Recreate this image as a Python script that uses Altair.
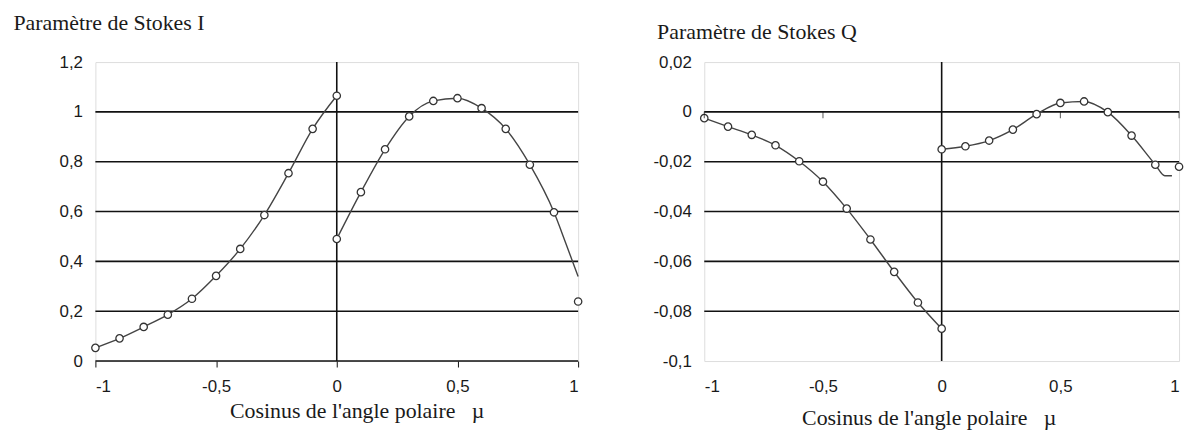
import altair as alt
import pandas as pd

# ---------------- data ----------------
mu_neg = [-1.0, -0.9, -0.8, -0.7, -0.6, -0.5, -0.4, -0.3, -0.2, -0.1, 0.0]
mu_pos = [0.0, 0.1, 0.2, 0.3, 0.4, 0.5, 0.6, 0.7, 0.8, 0.9, 1.0]

# Stokes I (markers)
i_neg = [0.053, 0.091, 0.137, 0.186, 0.250, 0.342, 0.450, 0.586, 0.754, 0.932, 1.065]
i_pos = [0.490, 0.678, 0.850, 0.982, 1.044, 1.055, 1.015, 0.932, 0.788, 0.597, 0.239]
# Stokes I curve on the positive side (ends above the last marker)
i_curve_mu = [0.0, 0.1, 0.2, 0.3, 0.4, 0.5, 0.6, 0.7, 0.8, 0.9, 0.95, 1.0]
i_curve = [0.490, 0.678, 0.850, 0.982, 1.044, 1.055, 1.015, 0.932, 0.788, 0.597, 0.470, 0.339]

# Stokes Q (markers)
q_neg = [-0.0025, -0.0059, -0.0092, -0.0134, -0.0198, -0.0280, -0.0388, -0.0512, -0.0642, -0.0765, -0.0870]
q_pos = [-0.0150, -0.0138, -0.0115, -0.0071, -0.0009, 0.0036, 0.0042, -0.0001, -0.0095, -0.0212, -0.0220]
# Stokes Q curve on the positive side
q_curve_mu = [0.0, 0.1, 0.2, 0.3, 0.4, 0.5, 0.6, 0.7, 0.8, 0.9, 0.94, 0.97]
q_curve = [-0.0150, -0.0138, -0.0115, -0.0071, -0.0009, 0.0036, 0.0042, -0.0001, -0.0095, -0.0212, -0.0256, -0.0256]

x_domain = [-1.0, 1.0]
x_ticks = [-1.0, -0.5, 0.0, 0.5, 1.0]

i_domain = [0.0, 1.2]
i_ticks = [0.0, 0.2, 0.4, 0.6, 0.8, 1.0, 1.2]
i_grid = [0.0, 0.2, 0.4, 0.6, 0.8, 1.0]

q_domain = [-0.1, 0.02]
q_ticks = [-0.1, -0.08, -0.06, -0.04, -0.02, 0.0, 0.02]
q_grid = [-0.08, -0.06, -0.04, -0.02, 0.0]

title_i = "Paramètre de Stokes I"
title_q = "Paramètre de Stokes Q"
x_title = "Cosinus de l'angle polaire\u00a0\u00a0\u00a0µ"

LABEL_EXPR = "replace(toString(datum.value), '.', ',')"
SERIF = "Liberation Serif"
SANS = "Liberation Sans"
TXT = "#1a1a1a"


def panel(neg_y, pos_y, curve_mu, curve_y, y_domain, y_ticks, y_grid,
          ytitle, ytitle_x, ytitle_y, xtitle_x, xtitle_y, width, height,
          show_ticks, cross_ticks):
    xaxis = alt.Axis(values=x_ticks, labelExpr=LABEL_EXPR, title=x_title,
                     domain=False, grid=False, ticks=True, tickSize=6,
                     tickColor="#111", tickOpacity=1 if show_ticks else 0,
                     labelPadding=12, labelFont=SANS, labelFontSize=17,
                     labelColor=TXT, titleFont=SERIF, titleFontSize=22,
                     titleFontWeight="normal", titleColor=TXT,
                     titleAlign="left", titleBaseline="alphabetic",
                     titleX=xtitle_x, titleY=xtitle_y)
    yaxis = alt.Axis(values=y_ticks, labelExpr=LABEL_EXPR, title=ytitle,
                     domain=False, grid=False, ticks=False, labelPadding=13,
                     labelFont=SANS, labelFontSize=17, labelColor=TXT,
                     labelBaseline="middle",
                     titleFont=SERIF, titleFontSize=22, titleFontWeight="normal",
                     titleColor=TXT, titleAngle=0, titleAlign="left",
                     titleBaseline="alphabetic", titleX=ytitle_x, titleY=ytitle_y)
    xs = alt.Scale(domain=x_domain, nice=False, zero=False)
    ys = alt.Scale(domain=y_domain, nice=False, zero=False)
    X = lambda f: alt.X(f, type="quantitative", scale=xs, axis=xaxis)
    Y = lambda f: alt.Y(f, type="quantitative", scale=ys, axis=yaxis)

    grid_df = pd.DataFrame({"v": y_grid, "mu": [x_domain[0]] * len(y_grid),
                            "mu2": [x_domain[1]] * len(y_grid)})
    grid = alt.Chart(grid_df).mark_rule(color="#111", strokeWidth=1.6).encode(
        x=X("mu"), x2="mu2", y=Y("v"))

    vline_df = pd.DataFrame({"mu": [0.0], "v": [y_domain[0]], "v2": [y_domain[1]]})
    vline = alt.Chart(vline_df).mark_rule(color="#111", strokeWidth=1.6).encode(
        x=X("mu"), y=Y("v"), y2="v2")

    line_df = pd.DataFrame({
        "mu": mu_neg + curve_mu,
        "v": neg_y + curve_y,
        "seg": ["neg"] * len(mu_neg) + ["pos"] * len(curve_mu),
    })
    lines = alt.Chart(line_df).mark_line(color="#444", strokeWidth=1.4,
                                         interpolate="monotone").encode(
        x=X("mu"), y=Y("v"), detail="seg:N")

    pt_df = pd.DataFrame({"mu": mu_neg + mu_pos, "v": neg_y + pos_y})
    pts = alt.Chart(pt_df).mark_point(shape="circle", size=55, filled=True,
                                      fill="white", stroke="#333",
                                      strokeWidth=1.3, opacity=1).encode(
        x=X("mu"), y=Y("v"))

    layers = [grid, vline, lines, pts]
    if cross_ticks:
        tk_df = pd.DataFrame({"mu": [t for t in x_ticks if t != 0.0],
                              "v": [0.0] * 4})
        tks = alt.Chart(tk_df).mark_tick(orient="vertical", size=7, color="#111",
                                         thickness=1, yOffset=3).encode(
            x=X("mu"), y=Y("v"))
        layers.append(tks)

    return alt.layer(*layers).properties(width=width, height=height)


left = panel(i_neg, i_pos, i_curve_mu, i_curve, i_domain, i_ticks, i_grid,
             title_i, -83, -33, 135, 57, 486, 301, True, False)
right = panel(q_neg, q_pos, q_curve_mu, q_curve, q_domain, q_ticks, q_grid,
              title_q, -48, -24, 98, 64, 478, 301, False, True)

chart = alt.hconcat(left, right, spacing=127, bounds="flush").properties(
    padding={"left": 4, "top": 1, "right": 0, "bottom": 2}
).configure_view(stroke="#999", strokeWidth=1.2).configure(background="white")

chart.save("out.html", embed_options={"renderer": "svg", "actions": False})
